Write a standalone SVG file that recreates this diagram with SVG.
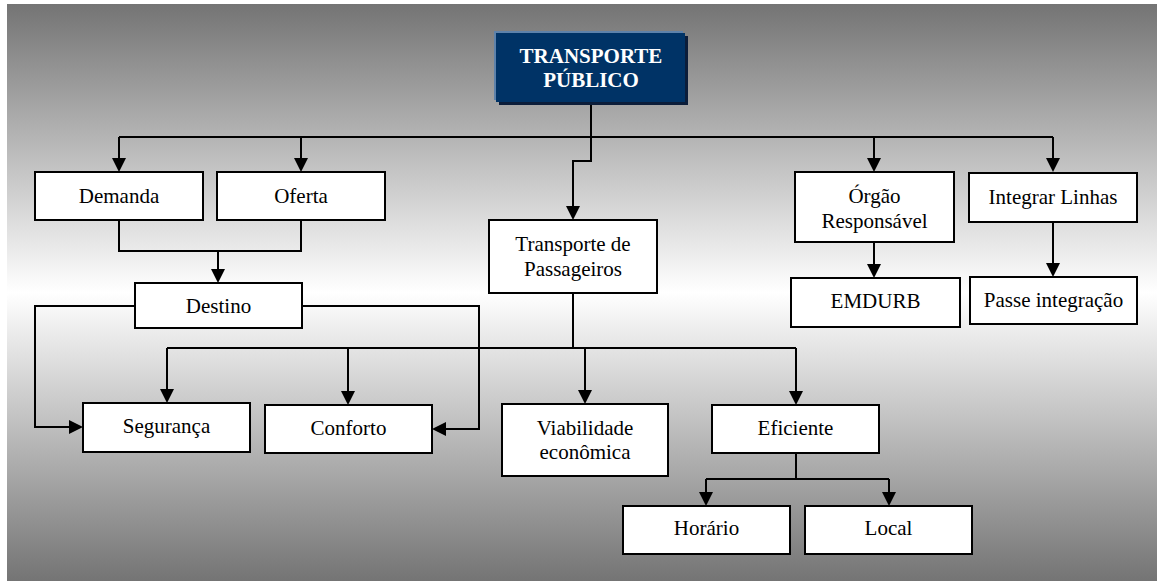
<svg xmlns="http://www.w3.org/2000/svg" width="1157" height="581" viewBox="0 0 1157 581">
<defs>
<linearGradient id="bg" x1="0" y1="4" x2="0" y2="581" gradientUnits="userSpaceOnUse">
<stop offset="0" stop-color="#747474"/>
<stop offset="0.5" stop-color="#ffffff"/>
<stop offset="1" stop-color="#747474"/>
</linearGradient>
<marker id="arr" markerUnits="userSpaceOnUse" viewBox="0 0 14 14" markerWidth="14" markerHeight="14" refX="4" refY="7" orient="auto">
<path d="M0,0 L14,7 L0,14 z" fill="#000"/>
</marker>
</defs>
<style>
.box{fill:#fff;stroke:#000;stroke-width:2}
.t{font-family:"Liberation Serif","Times New Roman",serif;font-size:21px;fill:#000;text-anchor:middle}
.tt{font-family:"Liberation Serif","Times New Roman",serif;font-size:21px;font-weight:bold;fill:#fff;text-anchor:middle}
.c{fill:none;stroke:#000;stroke-width:2}
.a{marker-end:url(#arr)}
</style>
<rect x="7" y="4" width="1150" height="577" fill="url(#bg)"/>
<g id="connectors">
<path class="c" d="M591,102 V161 H573 V210" marker-end="url(#arr)"/>
<path class="c" d="M119,137 H1053"/>
<path class="c" d="M119,137 V162" marker-end="url(#arr)"/>
<path class="c" d="M301,137 V162" marker-end="url(#arr)"/>
<path class="c" d="M874,137 V162" marker-end="url(#arr)"/>
<path class="c" d="M1053,137 V162" marker-end="url(#arr)"/>
<path class="c" d="M119,220 V251 H301 V220"/>
<path class="c" d="M218,251 V273" marker-end="url(#arr)"/>
<path class="c" d="M135,306 H35 V427 H73" marker-end="url(#arr)"/>
<path class="c" d="M302,306 H479 V429 H442" marker-end="url(#arr)"/>
<path class="c" d="M573,293 V348"/>
<path class="c" d="M167,348 H796"/>
<path class="c" d="M167,348 V393" marker-end="url(#arr)"/>
<path class="c" d="M348,348 V395" marker-end="url(#arr)"/>
<path class="c" d="M585,348 V394" marker-end="url(#arr)"/>
<path class="c" d="M796,348 V395" marker-end="url(#arr)"/>
<path class="c" d="M796,453 V479"/>
<path class="c" d="M706,479 H889"/>
<path class="c" d="M706,479 V496" marker-end="url(#arr)"/>
<path class="c" d="M889,479 V496" marker-end="url(#arr)"/>
<path class="c" d="M874,242 V268" marker-end="url(#arr)"/>
<path class="c" d="M1053,222 V267" marker-end="url(#arr)"/>
</g>
<g id="transporte-publico">
<rect x="494" y="31" width="189" height="69" fill="#5d82ab"/>
<rect x="499" y="36" width="189" height="69" fill="#0b1d3a"/>
<rect x="496" y="33" width="189" height="69" fill="#003366"/>
<text class="tt" x="591" y="63">TRANSPORTE</text>
<text class="tt" x="591" y="87">PÚBLICO</text>
</g>
<g id="demanda"><rect class="box" x="35" y="172" width="168" height="48"/><text class="t" x="119" y="203">Demanda</text></g>
<g id="oferta"><rect class="box" x="217" y="172" width="168" height="48"/><text class="t" x="301" y="203">Oferta</text></g>
<g id="destino"><rect class="box" x="135" y="283" width="167" height="45"/><text class="t" x="218.5" y="313">Destino</text></g>
<g id="transporte-passageiros"><rect class="box" x="489" y="220" width="168" height="73"/><text class="t" x="573" y="251">Transporte de</text><text class="t" x="573" y="276">Passageiros</text></g>
<g id="orgao"><rect class="box" x="795" y="172" width="159" height="70"/><text class="t" x="874.5" y="203">Órgão</text><text class="t" x="874.5" y="228">Responsável</text></g>
<g id="integrar"><rect class="box" x="969" y="173" width="168" height="49"/><text class="t" x="1053" y="204">Integrar Linhas</text></g>
<g id="emdurb"><rect class="box" x="791" y="278" width="169" height="49"/><text class="t" x="875.5" y="308">EMDURB</text></g>
<g id="passe"><rect class="box" x="970" y="277" width="167" height="47"/><text class="t" x="1053.5" y="307">Passe integração</text></g>
<g id="seguranca"><rect class="box" x="83" y="403" width="167" height="49"/><text class="t" x="166.5" y="433">Segurança</text></g>
<g id="conforto"><rect class="box" x="265" y="405" width="167" height="48"/><text class="t" x="348.5" y="435">Conforto</text></g>
<g id="viabilidade"><rect class="box" x="502" y="404" width="166" height="72"/><text class="t" x="585" y="435">Viabilidade</text><text class="t" x="585" y="459">econômica</text></g>
<g id="eficiente"><rect class="box" x="712" y="405" width="167" height="48"/><text class="t" x="795.5" y="435">Eficiente</text></g>
<g id="horario"><rect class="box" x="623" y="506" width="167" height="48"/><text class="t" x="706.5" y="535">Horário</text></g>
<g id="local"><rect class="box" x="805" y="506" width="167" height="48"/><text class="t" x="888.5" y="535">Local</text></g>
</svg>
